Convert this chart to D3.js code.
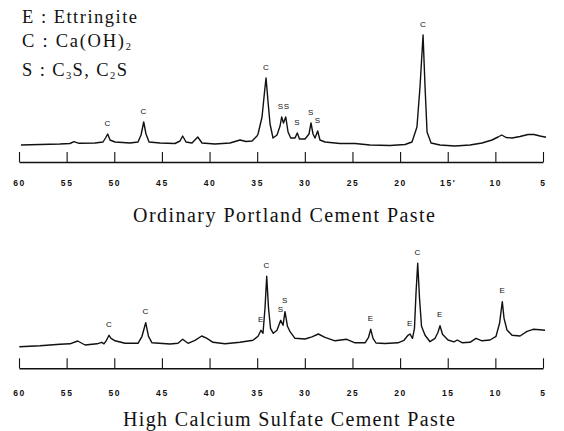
<!DOCTYPE html>
<html>
<head>
<meta charset="utf-8">
<script src="https://cdn.jsdelivr.net/npm/d3@7/dist/d3.min.js"></script>
<style>
  body { margin: 0; background: #fff; }
  svg { display: block; }
</style>
</head>
<body>
<svg id="chart" width="564" height="431"></svg>
<script>
// 2-theta axis (degrees), drawn from 60 down to 5
const twoThetaTicks = [60, 55, 50, 45, 40, 35, 30, 25, 20, 15, 10, 5];
const tickLabelsOPC = ["60", "55", "50", "45", "40", "35", "30", "25", "20", "15'", "10", "5"];
const tickLabelsHCS = ["60", "55", "50", "45", "40", "35", "30", "25", "20", "15", "10", "5"];

// Ordinary Portland Cement paste: diffraction trace (2θ, relative intensity)
const opcAngle = [59.79, 57.80, 55.70, 54.65, 54.23, 53.70, 52.02, 51.18, 50.92, 50.69,
  50.45, 49.92, 48.35, 47.51, 47.19, 46.91, 46.67, 46.35, 45.20, 43.63,
  43.10, 42.82, 42.47, 41.84, 41.24, 40.79, 39.43, 37.85, 36.80, 36.17,
  35.54, 35.02, 34.91, 34.49, 34.23, 34.07, 33.86, 33.65, 33.34, 32.92,
  32.60, 32.43, 32.24, 32.00, 31.76, 31.48, 31.03, 30.79, 30.56, 29.98,
  29.56, 29.35, 29.14, 28.93, 28.65, 28.41, 27.88, 26.31, 24.73, 23.16,
  21.06, 19.48, 18.75, 18.23, 17.91, 17.59, 17.38, 17.17, 16.75, 15.81,
  14.24, 12.66, 11.40, 10.35, 9.72, 9.33, 8.88, 8.25, 7.41, 6.57,
  5.94, 5.31, 4.68];
const opcIntensity = [17, 17.5, 18, 18.5, 20.3, 18.7, 19, 20, 24, 28,
  22, 20, 19, 20, 27, 40, 28, 20, 19, 18.5,
  21, 26, 20, 19, 25, 19, 18, 19, 22, 20.5,
  21, 26, 28, 45, 70, 84, 60, 38, 24, 27,
  36, 45, 39, 45, 30, 24, 24, 29, 23, 23,
  28, 39, 28, 24, 31, 22, 20, 18.5, 18.5, 17,
  16.5, 17.5, 20, 35, 75, 127, 75, 30, 19, 17,
  16, 17, 19, 22, 25, 27, 24.5, 24, 25.5, 27.5,
  27.5, 26, 24.7];
const opcPeakAngles = [50.69, 46.91, 34.07, 32.22, 30.79, 29.35, 28.65, 17.59];
const opcPeakPhases = ["C", "C", "C", "SS", "S", "S", "S", "C"];

// High Calcium Sulfate Cement paste: diffraction trace (2θ, relative intensity)
const hcsAngle = [59.97, 57.80, 55.70, 54.65, 53.84, 53.07, 51.81, 51.32, 51.08, 50.82,
  50.55, 50.34, 49.92, 48.87, 47.51, 47.09, 46.70, 46.41, 46.04, 44.15,
  43.31, 42.82, 42.26, 41.53, 40.82, 40.27, 39.64, 38.38, 36.80, 35.44,
  34.91, 34.60, 34.39, 34.18, 34.00, 33.81, 33.60, 33.31, 32.92, 32.53,
  32.29, 32.08, 31.82, 31.55, 31.03, 29.98, 29.25, 28.58, 27.88, 26.83,
  25.60, 24.73, 23.68, 23.31, 23.08, 22.84, 22.53, 21.58, 20.22, 19.59,
  19.17, 18.96, 18.70, 18.49, 18.33, 18.15, 17.96, 17.75, 17.38, 16.86,
  16.33, 16.02, 15.81, 15.55, 14.97, 14.34, 14.00, 13.50, 12.66, 12.03,
  11.40, 10.56, 9.93, 9.56, 9.27, 9.09, 8.78, 8.25, 7.41, 6.67,
  6.04, 5.31, 4.79];
const hcsIntensity = [21.6, 22.5, 24, 24.5, 27.3, 23.3, 24.5, 26, 24.5, 28,
  33, 30, 27.5, 25, 25, 32, 45.6, 32, 25.5, 24.3,
  25, 29, 25, 28, 32.3, 30, 26, 24.5, 26, 28,
  32, 38, 35, 60, 92, 60, 40, 35, 38, 48,
  43, 56.6, 42, 36.6, 30, 29.3, 31.5, 34.3, 31, 27.5,
  29, 25.5, 25.5, 31, 39, 30, 25.3, 24.8, 25.5, 28,
  33, 34.3, 30, 40, 75, 105, 70, 42, 33, 26.6,
  30, 36, 42.6, 34, 28.3, 26.5, 28.3, 25.6, 26, 30,
  27.5, 28.3, 32, 45, 66.6, 50, 38.3, 33, 32.3, 37,
  39, 38.5, 38];
const hcsPeakAngles = [50.55, 46.70, 34.60, 34.00, 32.53, 32.08, 23.08, 18.96, 18.15, 15.81, 9.27];
const hcsPeakPhases = ["C", "C", "E", "C", "S", "S", "E", "E", "C", "E", "E"];

const svg = d3.select("#chart");
const ink = "#111";

const x = d3.scaleLinear().domain([60, 5]).range([19, 543]);

const panels = [
  { angle: opcAngle, intensity: opcIntensity, peaks: opcPeakAngles, phases: opcPeakPhases,
    labels: tickLabelsOPC, axisY: 162, labelDrop: 21,
    title: "Ordinary Portland Cement Paste", titleX: 284, titleY: 222, titleW: 302 },
  { angle: hcsAngle, intensity: hcsIntensity, peaks: hcsPeakAngles, phases: hcsPeakPhases,
    labels: tickLabelsHCS, axisY: 368.3, labelDrop: 25,
    title: "High Calcium Sulfate Cement Paste", titleX: 289, titleY: 426, titleW: 332 }
];

panels.forEach(p => {
  const y = d3.scaleLinear().domain([0, 130]).range([p.axisY, p.axisY - 130]);
  const g = svg.append("g");

  // axis with ticks pointing up into the plot
  const axis = d3.axisBottom(x)
    .tickValues(twoThetaTicks)
    .tickSizeInner(-10)
    .tickSizeOuter(0)
    .tickPadding(p.labelDrop)
    .tickFormat((d, i) => p.labels[i]);
  const ag = g.append("g").attr("transform", `translate(0,${p.axisY})`).call(axis);
  ag.select(".domain").attr("stroke", ink).attr("stroke-width", 1.6);
  ag.selectAll(".tick line").attr("stroke", ink).attr("stroke-width", 1.1);
  ag.selectAll(".tick text")
    .attr("y", p.labelDrop)
    .attr("dy", "0.35em")
    .attr("fill", ink)
    .style("font-family", "'Liberation Sans', Arial, sans-serif")
    .style("font-size", "8.5px")
    .style("font-weight", "bold")
    .style("letter-spacing", "1.6px");

  // diffraction trace
  const pts = p.angle.map((a, i) => [a, p.intensity[i]]);
  g.append("path")
    .datum(pts)
    .attr("fill", "none")
    .attr("stroke", ink)
    .attr("stroke-width", 1.4)
    .attr("stroke-linejoin", "round")
    .attr("d", d3.line().x(d => x(d[0])).y(d => y(d[1])));

  // phase letters above the peaks
  p.peaks.forEach((a, i) => {
    const near = pts.filter(d => Math.abs(d[0] - a) <= 0.25);
    const top = d3.max(near, d => d[1]);
    g.append("text")
      .attr("x", x(a))
      .attr("y", y(top) - 11)
      .attr("text-anchor", "middle")
      .attr("dominant-baseline", "central")
      .attr("fill", ink)
      .style("font-family", "'Liberation Sans', Arial, sans-serif")
      .style("font-size", "8px")
      .style("letter-spacing", "0.5px")
      .text(p.phases[i]);
  });

  // panel caption
  g.append("text")
    .attr("x", p.titleX)
    .attr("y", p.titleY)
    .attr("text-anchor", "middle")
    .attr("textLength", p.titleW)
    .attr("lengthAdjust", "spacing")
    .attr("fill", ink)
    .style("font-family", "'Liberation Serif', 'Times New Roman', serif")
    .style("font-size", "20px")
    .text(p.title);
});

// legend of phase letters
const legend = [
  { y: 22.7, w: 115, parts: [["E : Ettringite", false]] },
  { y: 46.5, w: 109, parts: [["C : Ca(OH)", false], ["2", true]] },
  { y: 76, w: 105, parts: [["S : C", false], ["3", true], ["S, C", false], ["2", true], ["S", false]] }
];
legend.forEach(row => {
  const t = svg.append("text")
    .attr("x", 22)
    .attr("y", row.y)
    .attr("textLength", row.w)
    .attr("lengthAdjust", "spacing")
    .attr("fill", ink)
    .style("font-family", "'Liberation Serif', 'Times New Roman', serif")
    .style("font-size", "18.5px");
  row.parts.forEach(([s, sub], k) => {
    const ts = t.append("tspan").text(s);
    if (sub) ts.attr("dy", 3).style("font-size", "10.5px");
    else if (k > 0) ts.attr("dy", -3);
  });
});
</script>
</body>
</html>
